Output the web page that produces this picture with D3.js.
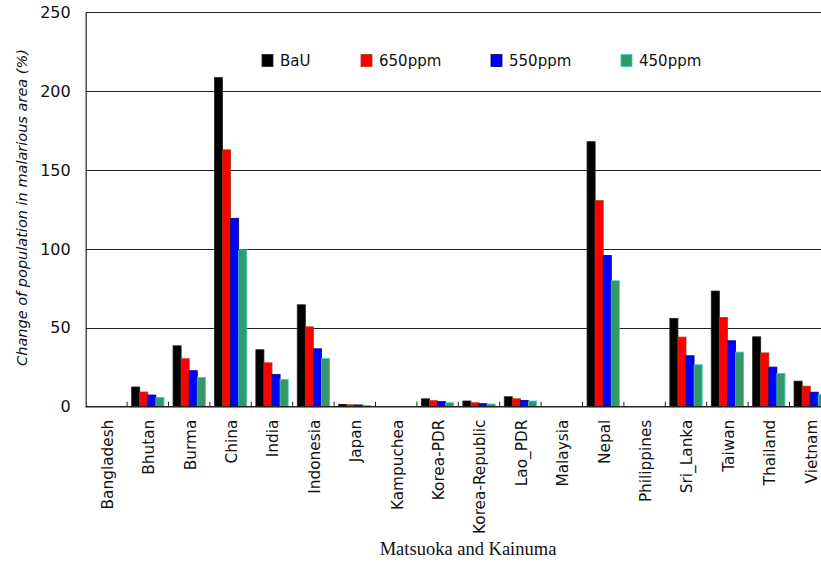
<!DOCTYPE html>
<html>
<head>
<meta charset="utf-8">
<script src="https://cdn.jsdelivr.net/npm/d3@7"></script>
<style>
  html, body { margin: 0; padding: 0; background: #fff; }
  svg { display: block; }
</style>
</head>
<body>
<svg id="chart" width="821" height="562"></svg>
<script>
const categories = ["Bangladesh","Bhutan","Burma","China","India","Indonesia","Japan","Kampuchea","Korea-PDR","Korea-Republic","Lao_PDR","Malaysia","Nepal","Philippines","Sri_Lanka","Taiwan","Thailand","Vietnam"];
const seriesNames = ["BaU","650ppm","550ppm","450ppm"];
const bau    = [0, 12.5, 38.6, 208.6, 36.1, 64.6, 1.5, 0, 5.0, 3.6, 6.3, 0, 168.0, 0, 56.0, 73.3, 44.3, 16.2];
const ppm650 = [0,  9.3, 30.4, 162.8, 27.8, 50.6, 1.2, 0, 3.8, 2.5, 5.0, 0, 130.6, 0, 44.1, 56.6, 34.1, 13.0];
const ppm550 = [0,  7.4, 22.8, 119.4, 20.4, 36.7, 1.1, 0, 3.2, 1.9, 4.0, 0,  95.9, 0, 32.3, 41.8, 25.1,  9.2];
const ppm450 = [0,  5.9, 18.5,  99.4, 17.3, 30.6, 0.8, 0, 2.5, 1.7, 3.6, 0,  79.8, 0, 26.6, 34.6, 21.1,  7.9];
const yTicks = [0, 50, 100, 150, 200, 250];

const fills   = ["#000000", "#FF0000", "#0000FF", "#339966"];
const strokes = ["#222222", "#B03010", "#000070", "#33CCCC"];

const seriesValues = [bau, ppm650, ppm550, ppm450];
const font = "'Comic Sans MS', 'DejaVu Sans', sans-serif";

const svg = d3.select("#chart");
const mLeft = 85.7, mTop = 12.3, mBottom = 406.7;
const bandW = 41.4;

const x0 = d3.scaleBand().domain(categories).range([mLeft, mLeft + bandW * categories.length]).padding(0);
const x1 = d3.scaleBand().domain(seriesNames).range([x0.bandwidth() * 0.11, x0.bandwidth() * 0.89]).padding(0);
const y = d3.scaleLinear().domain([0, 250]).range([mBottom, mTop]);

// gridlines
svg.append("g")
  .selectAll("line")
  .data(yTicks.filter(d => d > 0))
  .join("line")
  .attr("x1", mLeft).attr("x2", 821)
  .attr("y1", d => Math.round(y(d)) + 0.5).attr("y2", d => Math.round(y(d)) + 0.5)
  .attr("stroke", "#222").attr("stroke-width", 1);

// bars
const groups = svg.append("g")
  .selectAll("g")
  .data(categories)
  .join("g")
  .attr("transform", d => `translate(${x0(d)},0)`);

groups.selectAll("rect")
  .data((c, i) => seriesNames.map((s, k) => ({ s, k, v: seriesValues[k][i] })).filter(d => d.v > 0))
  .join("rect")
  .attr("x", d => x1(d.s))
  .attr("width", x1.bandwidth())
  .attr("y", d => y(d.v))
  .attr("height", d => y(0) - y(d.v))
  .attr("fill", d => fills[d.k])
  .attr("stroke", d => strokes[d.k])
  .attr("stroke-width", 0.8);

// y axis
const yAxis = d3.axisLeft(y).tickValues(yTicks).tickSize(0).tickPadding(15);
const yg = svg.append("g").attr("transform", `translate(${mLeft},0)`).call(yAxis);
yg.select(".domain").attr("stroke", "#222").attr("stroke-width", 1.2);
yg.selectAll("text").attr("font-family", font).attr("font-size", 16).attr("fill", "#111");

// x axis with ticks between categories pointing up
const xg = svg.append("g").attr("transform", `translate(0,${mBottom})`);
xg.append("line").attr("x1", mLeft).attr("x2", 821).attr("y1", 0).attr("y2", 0)
  .attr("stroke", "#222").attr("stroke-width", 1.5);
xg.selectAll("line.tick")
  .data(categories.slice(1))
  .join("line")
  .attr("class", "tick")
  .attr("x1", d => x0(d)).attr("x2", d => x0(d))
  .attr("y1", 0).attr("y2", -5)
  .attr("stroke", "#222").attr("stroke-width", 1);

xg.selectAll("text")
  .data(categories)
  .join("text")
  .attr("transform", d => `translate(${x0(d) + x0.bandwidth() / 2 + 1},13) rotate(-90)`)
  .attr("text-anchor", "end")
  .attr("dy", "0.35em")
  .attr("font-family", font)
  .attr("font-size", 15.3)
  .attr("fill", "#111")
  .text(d => d);

// y title
svg.append("text")
  .attr("transform", `translate(27,${(40 + 375) / 2}) rotate(-90)`)
  .attr("text-anchor", "middle")
  .attr("font-family", font)
  .attr("font-style", "italic")
  .attr("font-size", 14.5)
  .attr("fill", "#111")
  .text("Change of population in malarious area (%)");

// legend
const legendX = [262, 361, 491, 621];
const lg = svg.append("g");
seriesNames.forEach((s, k) => {
  lg.append("rect")
    .attr("x", legendX[k]).attr("y", 54.5)
    .attr("width", 11).attr("height", 12)
    .attr("fill", fills[k]).attr("stroke", strokes[k]).attr("stroke-width", 0.8);
  lg.append("text")
    .attr("x", legendX[k] + 18).attr("y", 66)
    .attr("font-family", font).attr("font-size", 15).attr("fill", "#111")
    .text(s);
});

// caption
svg.append("text")
  .attr("x", 468).attr("y", 555)
  .attr("text-anchor", "middle")
  .attr("font-family", "'Liberation Serif', 'Times New Roman', serif")
  .attr("font-size", 18.5)
  .attr("fill", "#111")
  .text("Matsuoka and Kainuma");
</script>
</body>
</html>
